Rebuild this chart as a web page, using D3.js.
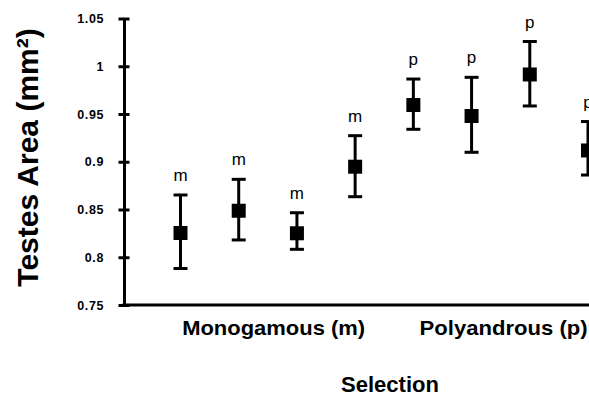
<!DOCTYPE html>
<html>
<head>
<meta charset="utf-8">
<script src="https://cdn.jsdelivr.net/npm/d3@7"></script>
<style>
  body { margin: 0; background: #fff; }
  svg { display: block; font-family: "Liberation Sans", Arial, Helvetica, sans-serif; }
</style>
</head>
<body>
<svg width="589" height="402"></svg>
<script>
const width = 589;
const height = 402;

// data
const lines = [1, 2, 3, 4, 5, 6, 7, 8];
const groups = ["m", "m", "m", "m", "p", "p", "p", "p"];
const means = [0.8254, 0.8487, 0.8251, 0.8948, 0.9594, 0.9479, 0.9914, 0.9118];
const upper = [0.8652, 0.8816, 0.8466, 0.9273, 0.9866, 0.9884, 1.0259, 0.9421];
const lower = [0.7882, 0.8181, 0.8083, 0.8634, 0.934, 0.9099, 0.9584, 0.8861];
const yTicks = [0.75, 0.8, 0.85, 0.9, 0.95, 1, 1.05];
const yTickLabels = ["0.75", "0.8", "0.85", "0.9", "0.95", "1", "1.05"];
const groupNames = ["Monogamous (m)", "Polyandrous (p)"];
const groupCenters = [2.6, 6.55];

const axis_x = 124;
const sq = 14;
const cap = 14;

let svg = d3.select("svg");

const y = d3.scaleLinear().domain([0.75, 1.05]).range([305, 18.5]);
const x = d3.scaleLinear().domain([1, 8]).range([180.5, 588]);

// y axis, ticks on both sides of the line
const yAxis = svg
  .append("g")
  .attr("transform", `translate(${axis_x},0)`)
  .call(
    d3
      .axisLeft(y)
      .tickValues(yTicks)
      .tickFormat((d, i) => yTickLabels[i])
      .tickSize(5)
      .tickSizeOuter(0)
      .tickPadding(15)
  );
yAxis.select(".domain").attr("stroke", "black").attr("stroke-width", 3);
yAxis
  .selectAll(".tick line")
  .attr("x1", -5.5)
  .attr("x2", 5.5)
  .attr("stroke", "black")
  .attr("stroke-width", 3);
yAxis
  .selectAll(".tick text")
  .attr("fill", "black")
  .style("font-size", "12.5px")
  .style("font-weight", "bold")
  .style("letter-spacing", "0.6px");

// x axis line
svg
  .append("line")
  .attr("x1", axis_x - 1.5)
  .attr("x2", width)
  .attr("y1", y(0.75))
  .attr("y2", y(0.75))
  .attr("stroke", "black")
  .attr("stroke-width", 3);

// error bars
let bars = svg.append("g");
lines.forEach((d, i) => {
  bars
    .append("line")
    .attr("x1", x(d))
    .attr("x2", x(d))
    .attr("y1", y(upper[i]))
    .attr("y2", y(lower[i]))
    .attr("stroke", "black")
    .attr("stroke-width", 3);
  [upper[i], lower[i]].forEach((v) => {
    bars
      .append("line")
      .attr("x1", x(d) - cap / 2)
      .attr("x2", x(d) + cap / 2)
      .attr("y1", y(v))
      .attr("y2", y(v))
      .attr("stroke", "black")
      .attr("stroke-width", 3);
  });
  bars
    .append("rect")
    .attr("x", x(d) - sq / 2)
    .attr("y", y(means[i]) - sq / 2)
    .attr("width", sq)
    .attr("height", sq)
    .attr("fill", "black");
  bars
    .append("text")
    .attr("x", x(d))
    .attr("y", y(upper[i]) - 14)
    .attr("text-anchor", "middle")
    .attr("fill", "black")
    .style("font-size", "17px")
    .text(groups[i]);
});

// group labels
const groupWidths = [183, 168];
groupNames.forEach((g, i) => {
  svg
    .append("text")
    .attr("x", x(groupCenters[i]))
    .attr("y", 335)
    .attr("text-anchor", "middle")
    .attr("fill", "black")
    .attr("textLength", groupWidths[i])
    .attr("lengthAdjust", "spacingAndGlyphs")
    .style("font-size", "21px")
    .style("font-weight", "bold")
    .text(g);
});

// axis titles
svg
  .append("text")
  .attr("x", 390)
  .attr("y", 392)
  .attr("text-anchor", "middle")
  .attr("fill", "black")
  .style("font-size", "22px")
  .style("font-weight", "bold")
  .text("Selection");

svg
  .append("text")
  .attr("transform", "translate(37.5,157.5) rotate(-90)")
  .attr("text-anchor", "middle")
  .attr("fill", "black")
  .style("font-size", "30px")
  .style("font-weight", "bold")
  .text("Testes Area (mm²)");
</script>
</body>
</html>
